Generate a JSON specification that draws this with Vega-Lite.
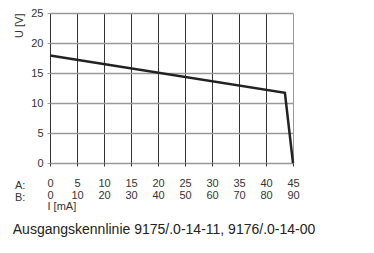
{
  "$schema": "https://vega.github.io/schema/vega-lite/v6.json",
  "width": 243,
  "height": 150,
  "padding": {"left": 12, "top": 7, "right": 5, "bottom": 5},
  "background": "white",
  "config": {
    "font": "Liberation Sans",
    "view": {"stroke": null}
  },
  "title": {
    "text": "Ausgangskennlinie 9175/.0-14-11, 9176/.0-14-00",
    "orient": "bottom",
    "anchor": "start",
    "fontSize": 14,
    "fontWeight": "normal",
    "color": "#222",
    "offset": 12,
    "dx": -1
  },
  "datasets": {
    "curve": [
      {"I": 0, "U": 17.9},
      {"I": 43.5, "U": 11.7},
      {"I": 45, "U": 0}
    ],
    "rowlabels": [
      {"I": -6.5, "U": -3.8, "t": "A:"},
      {"I": -6.5, "U": -5.8, "t": "B:"}
    ]
  },
  "encoding": {
    "x": {
      "field": "I",
      "type": "quantitative",
      "scale": {"domain": [0, 45], "nice": false, "zero": false},
      "axis": {
        "values": [0, 5, 10, 15, 20, 25, 30, 35, 40, 45],
        "title": "I [mA]",
        "titleAnchor": "start",
        "titleAlign": "left",
        "titleFontWeight": "normal",
        "titleFontSize": 11,
        "titleColor": "#333",
        "titlePadding": 0,
        "titleX": -3,
        "labelExpr": "[datum.label, format(datum.value * 2, 'd')]",
        "labelLineHeight": 12,
        "labelFontSize": 11,
        "labelColor": "#333",
        "labelPadding": 11,
        "labelFlush": false,
        "labelOverlap": false,
        "domain": false,
        "tickSize": 3,
        "tickColor": "#333",
        "grid": true,
        "gridColor": {"condition": {"test": "datum.value == 45", "value": "#999"}, "value": "#333"},
        "gridWidth": 1
      }
    },
    "y": {
      "field": "U",
      "type": "quantitative",
      "scale": {"domain": [0, 25], "nice": false},
      "axis": {
        "values": [0, 5, 10, 15, 20, 25],
        "title": "U [V]",
        "titleAnchor": "end",
        "titleFontWeight": "normal",
        "titleFontSize": 11,
        "titleColor": "#333",
        "titlePadding": 6,
        "labelFontSize": 11,
        "labelColor": "#333",
        "labelPadding": 4,
        "labelFlush": false,
        "labelOverlap": false,
        "domain": false,
        "tickSize": 3,
        "tickColor": "#999",
        "grid": true,
        "gridColor": "#999",
        "gridWidth": 1.5
      }
    }
  },
  "layer": [
    {
      "data": {"name": "curve"},
      "mark": {"type": "line", "color": "#222", "strokeWidth": 2.5, "strokeJoin": "miter"}
    },
    {
      "data": {"name": "rowlabels"},
      "mark": {"type": "text", "align": "left", "baseline": "middle", "fontSize": 11, "color": "#333"},
      "encoding": {
        "text": {"field": "t"}
      }
    }
  ]
}
